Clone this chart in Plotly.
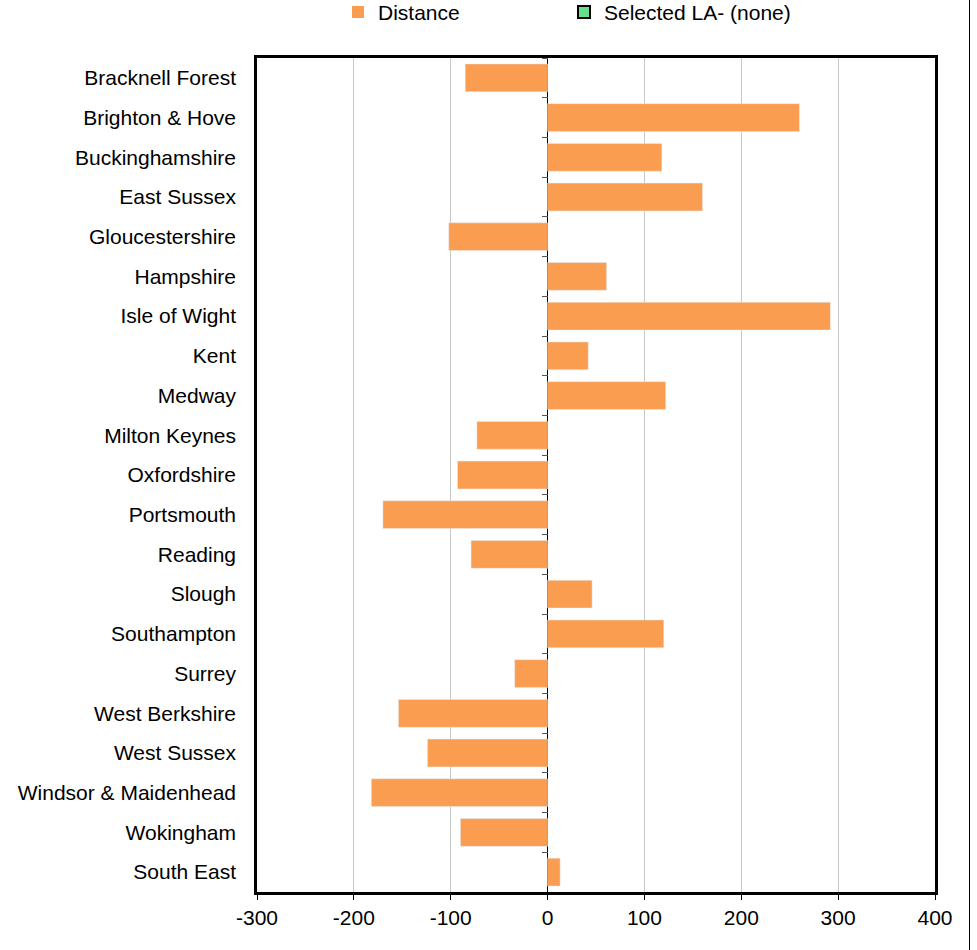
import plotly.graph_objects as go

categories = ["Bracknell Forest", "Brighton & Hove", "Buckinghamshire", "East Sussex",
              "Gloucestershire", "Hampshire", "Isle of Wight", "Kent", "Medway",
              "Milton Keynes", "Oxfordshire", "Portsmouth", "Reading", "Slough",
              "Southampton", "Surrey", "West Berkshire", "West Sussex",
              "Windsor & Maidenhead", "Wokingham", "South East"]
distance = [-85, 260, 118, 160, -102, 61, 292, 42, 122, -73, -93, -170, -79, 46,
            120, -34, -154, -124, -182, -90, 13]
x_ticks = [-300, -200, -100, 0, 100, 200, 300, 400]

FONT = "Liberation Sans, Arial, sans-serif"
ORANGE = "#FA9D50"
FS = 21

W, H = 969, 950
ML, MR, MT, MB = 257, 34, 58, 58
PW = W - ML - MR

fig = go.Figure()
fig.add_trace(go.Bar(
    y=categories, x=distance, orientation="h", name="Distance",
    marker=dict(color=ORANGE, line=dict(width=0)), width=0.7,
))
fig.add_trace(go.Bar(
    y=[None], x=[None], orientation="h", name="Selected LA- (none)",
    marker=dict(color="#66E08A", line=dict(color="black", width=2)),
))
fig.add_trace(go.Bar(
    y=categories, x=distance, orientation="h", yaxis="y2", showlegend=False,
    marker=dict(color="rgba(0,0,0,0)"), hoverinfo="skip", width=0.7,
))

fig.update_layout(
    width=W, height=H,
    margin=dict(l=ML, r=MR, t=MT, b=MB, autoexpand=False),
    paper_bgcolor="white", plot_bgcolor="white",
    font=dict(family=FONT, size=FS, color="black"),
    barmode="overlay",
    showlegend=True,
    legend=dict(orientation="h", x=(338 - ML) / PW, xanchor="left",
                y=0.987, yanchor="middle", yref="container",
                entrywidth=181, entrywidthmode="pixels", itemwidth=30,
                font=dict(size=FS), itemclick=False, traceorder="normal",
                bgcolor="rgba(0,0,0,0)"),
    xaxis=dict(range=[-300, 400], tickvals=x_ticks, ticktext=[str(v) for v in x_ticks],
               showgrid=True, gridcolor="#C8C8C8", gridwidth=1,
               zeroline=True, zerolinecolor="black", zerolinewidth=1,
               showline=True, linecolor="black", linewidth=2.5, mirror=True,
               ticks="outside", ticklen=5, tickcolor="black", tickwidth=1,
               tickfont=dict(size=FS), fixedrange=True),
    yaxis=dict(type="category", categoryorder="array", categoryarray=categories,
               autorange="reversed", showgrid=False, ticks="", ticklabelstandoff=14,
               showline=True, linecolor="black", linewidth=2.5, mirror=True,
               tickfont=dict(size=FS), fixedrange=True),
    yaxis2=dict(type="category", categoryorder="array", categoryarray=categories,
                matches="y", overlaying="y", anchor="free", position=3 / 7,
                side="left", showgrid=False, showticklabels=False,
                ticks="outside", ticklen=6, tickcolor="#555555", tickwidth=1,
                tickson="boundaries", showline=False, fixedrange=True),
)

post = ("document.body.style.margin='0';"
        "var d=document.getElementById('{plot_id}');"
        "d.style.borderRight='1px solid black';d.style.width='969px';")
fig.write_html("out.html", post_script=post, config={"displayModeBar": False})
